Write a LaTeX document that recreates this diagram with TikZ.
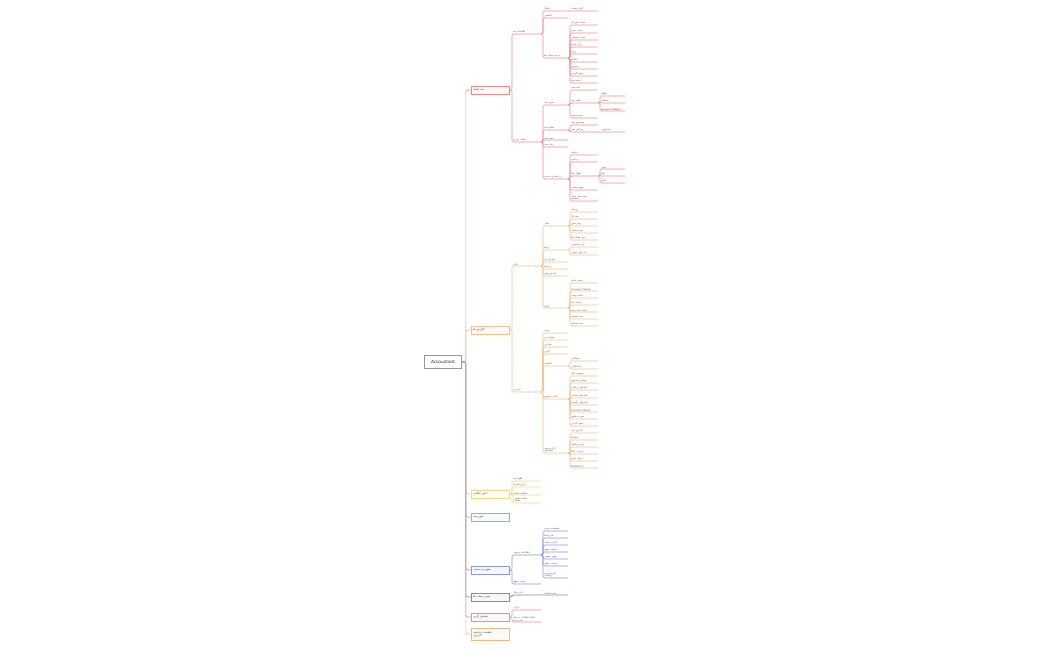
\documentclass[tikz,border=0pt]{standalone}
\usepackage{fontspec}
\setmainfont{DejaVu Sans}
\newfontfamily\fafont[Script=Arabic]{DejaVu Sans}
\TeXXeTstate=1
\usetikzlibrary{shadows}
\newcommand\fa[1]{{\fafont\beginR #1\endR}}
\newcommand\en[1]{\beginL #1\endL{}}
\definecolor{cred}{HTML}{F08A8A}
\definecolor{corange}{HTML}{F6BE8A}
\definecolor{cyellow}{HTML}{EEDC7E}
\definecolor{cteal}{HTML}{5FCFB8}
\definecolor{cblue}{HTML}{8A98E3}
\definecolor{cslate}{HTML}{8C89A8}
\definecolor{cpink}{HTML}{EE8A98}
\definecolor{camber}{HTML}{F4B680}
\colorlet{brc}{cred}

\begin{document}
\begin{tikzpicture}[x=1mm, y=-1mm,
  every node/.style={font=\fontsize{6.5}{7.5}\selectfont, text=black!70},
  ln/.style={draw=brc, line width=0.6mm, rounded corners=1.5mm},
  ul/.style={anchor=south west, inner xsep=1.2mm, inner ysep=0.6mm, text width=#1, align=left},
  lvtwo/.style={ul=26.6mm}, lvthree/.style={ul=22.6mm},
  lvfour/.style={ul=25.6mm}, lvfive/.style={ul=22.6mm},
  topic/.style={draw=brc, fill=brc!7, line width=0.7mm, anchor=west, minimum height=8mm,
    text width=34mm, inner xsep=2mm, align=left, font=\fontsize{7.5}{9}\selectfont, text=black!80},
  root/.style={draw=black!40, fill=white, line width=0.8mm, minimum width=37mm, minimum height=12.5mm,
    font=\fontsize{12}{14}\selectfont, text=black!85,
    drop shadow={shadow xshift=0.9mm, shadow yshift=-0.9mm, fill=black!35}}]
\useasboundingbox (0,0) rectangle (1050,650);

\node[root] (acc) at (443,362) {Accountant};

% ثبت اسناد
\begin{scope}
\colorlet{brc}{cred}
\node[topic] (doc) at (471,90) {\fa{ثبت اسناد}};
\draw[ln] (acc.east) -- ++(4,0) |- (doc.west);
\node[lvtwo] (base) at (512,34) {\fa{اطلاعات پایه}};
\node[lvtwo] (daily) at (512,142) {\fa{عملیات روزانه}};
\foreach \n in {base,daily} \draw[ln] (doc.east) -| (\n.south west) -- (\n.south east);
\node[lvthree] (coding) at (543,11) {\fa{کدینگ}};
\node[lvthree] (persons) at (543,18) {\fa{اشخاص}};
\node[lvthree] (accdef) at (543,58) {\fa{تعریف حساب ها}};
\foreach \n in {coding,persons,accdef} \draw[ln] (base.south east) -| (\n.south west) -- (\n.south east);
\node[lvfour] (group) at (570,11) {\fa{گروه حساب}};
\draw[ln] (coding.south east) -- ([yshift=0.05mm]group.south west) -- (group.south east);
\foreach \y/\t [count=\i] in {25/حساب های کل,33/حساب معین,40/حساب تفصیلی,47/مرکز هزینه,54/پروژه,
    62/بانک ها,69/صندوق,76/تنخواه گردان,83/دسته چک}
  {\node[lvfour] (accdef-\i) at (570,\y) {\fa{\t}};
   \draw[ln] (accdef.south east) -| (accdef-\i.south west) -- (accdef-\i.south east);}
\node[lvthree] (issue) at (543,105) {\fa{صدور سند}};
\node[lvthree] (edit) at (543,130) {\fa{اصلاح سند}};
\node[lvthree] (del) at (543,140) {\fa{حذف سند}};
\node[lvthree] (prn) at (543,147) {\fa{چاپ سند}};
\node[lvthree] (cash) at (543,179) {\fa{دریافت و پرداخت}};
\foreach \n in {issue,edit,del,prn,cash} \draw[ln] (daily.south east) -| (\n.south west) -- (\n.south east);
\node[lvfour] (newdoc) at (570,90) {\fa{سند جدید}};
\node[lvfour] (items) at (570,103) {\fa{اقلام سند}};
\node[lvfour] (draft) at (570,118) {\fa{ذخیره موقت}};
\foreach \n in {newdoc,items,draft} \draw[ln] (issue.south east) -| (\n.south west) -- (\n.south east);
\node[lvfive] (debit) at (600,96) {\fa{بدهکار}};
\node[lvfive] (credit) at (600,103) {\fa{بستانکار}};
\node[lvfive, text=red!55!black] (acr) at (600,111) {Account Creation};
\foreach \n in {debit,credit,acr} \draw[ln] (items.south east) -| (\n.south west) -- (\n.south east);
\node[lvfour] (find) at (570,125) {\fa{جستجوی سند}};
\node[lvfour] (modify) at (570,132) {\fa{ویرایش سند}};
\foreach \n in {find,modify} \draw[ln] (edit.south east) -| (\n.south west) -- (\n.south east);
\node[lvfive] (final) at (600,132) {\fa{تایید نهایی}};
\draw[ln] (modify.south east) -- ([yshift=0.05mm]final.south west) -- (final.south east);
\node[lvfour] (recv) at (570,155) {\fa{دریافت}};
\node[lvfour] (pay) at (570,162) {\fa{پرداخت}};
\node[lvfour] (move) at (570,176) {\fa{انتقال وجه}};
\node[lvfour] (settle) at (570,190) {\fa{تسویه حساب}};
\node[lvfour] (misc) at (570,201) {\fa{هزینه های جاری}\\\fa{و متفرقه}};
\foreach \n in {recv,pay,move,settle,misc} \draw[ln] (cash.south east) -| (\n.south west) -- (\n.south east);
\foreach \y/\t [count=\i] in {169/نقدی,176/چک,183/حواله}
  {\node[lvfive] (move-\i) at (600,\y) {\fa{\t}};
   \draw[ln] (move.south east) -| (move-\i.south west) -- (move-\i.south east);}
\end{scope}

% گزارش ها
\begin{scope}
\colorlet{brc}{corange}
\node[topic] (rep) at (471,330) {\fa{گزارش ها}};
\draw[ln] (acc.east) -- ++(4,0) |- (rep.west);
\node[lvtwo] (fin) at (512,266) {\fa{مالی}};
\node[lvtwo] (mgmt) at (512,392) {\fa{مدیریتی}};
\foreach \n in {fin,mgmt} \draw[ln] (rep.east) -| (\n.south west) -- (\n.south east);
\node[lvthree] (books) at (543,226) {\fa{دفاتر}};
\node[lvthree] (trial) at (543,250) {\fa{ترازها}};
\node[lvthree] (pl) at (543,262) {\fa{سود و زیان}};
\node[lvthree] (bs) at (543,269) {\fa{ترازنامه}};
\node[lvthree] (flow) at (543,276) {\fa{گردش وجوه}};
\node[lvthree] (docs) at (543,308) {\fa{اسناد}};
\foreach \n in {books,trial,pl,bs,flow,docs} \draw[ln] (fin.south east) -| (\n.south west) -- (\n.south east);
\foreach \y/\t [count=\i] in {212/روزنامه,219/دفتر کل,226/دفتر معین,233/دفتر تفصیلی,240/مرور حساب ها}
  {\node[lvfour] (books-\i) at (570,\y) {\fa{\t}};
   \draw[ln] (books.south east) -| (books-\i.south west) -- (books-\i.south east);}
\foreach \y/\t [count=\i] in {247/تراز دو ستونی,255/تراز چهار ستونی}
  {\node[lvfour] (trial-\i) at (570,\y) {\fa{\t}};
   \draw[ln] (trial.south east) -| (trial-\i.south west) -- (trial-\i.south east);}
\foreach \y/\t [count=\i] in {283/لیست اسناد,291/\en{Account Creation},298/اسناد موقت,305/اسناد دائم,
    312/اسناد حذف شده,319/سند افتتاحیه,326/سند اختتامیه}
  {\node[lvfour] (docs-\i) at (570,\y) {\fa{\t}};
   \draw[ln] (docs.south east) -| (docs-\i.south west) -- (docs-\i.south east);}
\node[lvthree] (budget) at (543,333) {\fa{بودجه}};
\node[lvthree] (compare) at (543,340) {\fa{مقایسه ای}};
\node[lvthree] (chart) at (543,347) {\fa{نموداری}};
\node[lvthree] (stat) at (543,354) {\fa{آماری}};
\node[lvthree] (pers) at (543,366) {\fa{اشخاص}};
\node[lvthree] (bank) at (543,399) {\fa{بانک و صندوق}};
\node[lvthree] (custom) at (543,453) {\fa{گزارش های}\\\fa{سفارشی}};
\foreach \n in {budget,compare,chart,stat,pers,bank,custom} \draw[ln] (mgmt.south east) -| (\n.south west) -- (\n.south east);
\foreach \y/\t [count=\i] in {361/بدهکاران,369/بستانکاران}
  {\node[lvfour] (pers-\i) at (570,\y) {\fa{\t}};
   \draw[ln] (pers.south east) -| (pers-\i.south west) -- (pers-\i.south east);}
\foreach \y/\t [count=\i] in {376/موجودی بانک,383/موجودی صندوق,390/چک های دریافتی,398/چک های پرداختی,
    405/چک های برگشتی,412/\en{Account Creation},419/صورت تطبیق,426/تنخواه گردان}
  {\node[lvfour] (bank-\i) at (570,\y) {\fa{\t}};
   \draw[ln] (bank.south east) -| (bank-\i.south west) -- (bank-\i.south east);}
\foreach \y/\t [count=\i] in {433/گزارش ساز,440/فیلترها,447/خروجی اکسل,454/خروجی PDF,461/ارسال ایمیل,
    468/\en{Statistics 1}}
  {\node[lvfour] (custom-\i) at (570,\y) {\fa{\t}};
   \draw[ln] (custom.south east) -| (custom-\i.south west) -- (custom-\i.south east);}
\end{scope}

% امور مالیاتی
\begin{scope}
\colorlet{brc}{cyellow}
\node[topic] (tax) at (471,494) {\fa{امور مالیاتی}};
\draw[ln] (acc.east) -- ++(4,0) |- (tax.west);
\foreach \y/\t [count=\i] in {481/اظهارنامه,487/ارزش افزوده,495/معاملات فصلی}
  {\node[lvtwo] (tax-\i) at (512,\y) {\fa{\t}};
   \draw[ln] (tax.east) -| (tax-\i.south west) -- (tax-\i.south east);}
\node[lvtwo] (tax-4) at (512,503) {\fa{مالیات حقوق و}\\\fa{دستمزد}};
\draw[ln] (tax.east) -| (tax-4.south west) -- (tax-4.south east);
\end{scope}

% امور بیمه
\begin{scope}
\colorlet{brc}{cteal}
\node[topic] (ins) at (471,517) {\fa{امور بیمه}};
\draw[ln] (acc.east) -- ++(4,0) |- (ins.west);
\end{scope}

% حقوق و دستمزد
\begin{scope}
\colorlet{brc}{cblue}
\node[topic] (wage) at (471,570) {\fa{حقوق و دستمزد}};
\draw[ln] (acc.east) -- ++(4,0) |- (wage.west);
\node[lvtwo] (staff) at (512,555) {\fa{اطلاعات پرسنلی}};
\node[lvtwo] (plist) at (512,584) {\fa{لیست حقوق}};
\foreach \n in {staff,plist} \draw[ln] (wage.east) -| (\n.south west) -- (\n.south east);
\foreach \y/\t [count=\i] in {531/مشخصات فردی,538/قراردادها,545/کارکرد ماهانه,552/محاسبه حقوق,
    559/فیش حقوقی,566/پرداخت حقوق}
  {\node[lvthree] (staff-\i) at (543,\y) {\fa{\t}};
   \draw[ln] (staff.south east) -| (staff-\i.south west) -- (staff-\i.south east);}
\node[lvthree] (staff-7) at (543,578) {\fa{گزارش بیمه}\\\fa{و مالیات}};
\draw[ln] (staff.south east) -| (staff-7.south west) -- (staff-7.south east);
\end{scope}

% بستن حساب ها
\begin{scope}
\colorlet{brc}{cslate}
\node[topic] (close) at (471,597) {\fa{بستن حساب ها}};
\draw[ln] (acc.east) -- ++(4,0) |- (close.west);
\node[lvtwo] (yend) at (512,595) {\fa{پایان سال}};
\node[lvthree] (closing) at (543,595) {\fa{سند اختتامیه}};
\draw[ln] (close.east) -| (yend.south west) -- (yend.south east);
\draw[ln] (yend.south east) -- ([yshift=0.05mm]closing.south west) -- (closing.south east);
\end{scope}

% تنظیمات
\begin{scope}
\colorlet{brc}{camber}
\node[topic, minimum height=12mm] (sec) at (471,634) {\fa{تنظیمات و امنیت}\\\fa{کاربران}};
\draw[ln] (acc.east) -- ++(4,0) |- (sec.west);
\end{scope}

% پشتیبان گیری
\begin{scope}
\colorlet{brc}{cpink}
\node[topic] (bak) at (471,617) {\fa{پشتیبان گیری}};
\draw[ln] (acc.east) -- ++(4,0) |- (bak.west);
\node[lvtwo] (restore) at (512,610) {\fa{بازیابی}};
\node[lvtwo] (transfer) at (512,622) {\fa{انتقال اطلاعات به سال}\\\fa{مالی جدید}};
\foreach \n in {restore,transfer} \draw[ln] (bak.east) -| (\n.south west) -- (\n.south east);
\end{scope}
\end{tikzpicture}
\end{document}
